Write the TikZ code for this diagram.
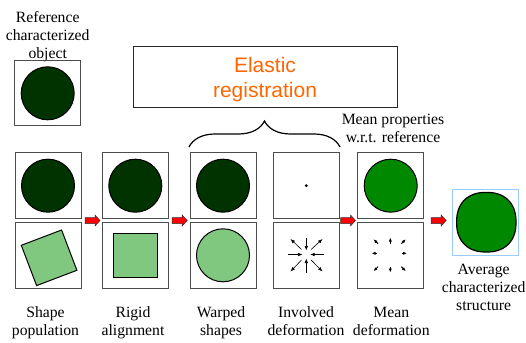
\documentclass[tikz,border=0pt]{standalone}
\usepackage{fontspec}
\setmainfont{Liberation Serif}
\newfontfamily\arialfont{Liberation Sans}
\usetikzlibrary{decorations.pathreplacing,arrows.meta}
\definecolor{darkgr}{RGB}{0,51,0}
\definecolor{midgr}{RGB}{0,136,0}
\definecolor{lightgr}{RGB}{128,200,128}
\definecolor{boxblue}{RGB}{153,204,255}
\definecolor{orng}{RGB}{255,102,0}
\begin{document}
\begin{tikzpicture}[x=1pt,y=-1pt,
  cell/.style={draw=black!70,line width=0.8pt,minimum width=66pt,minimum height=66pt,inner sep=0pt},
  shp/.style={draw=black,line width=1pt},
  lbl/.style={font=\fontsize{15.7}{18}\selectfont,align=center,inner sep=0pt},
  fa/.style={line width=0.6pt,-{Latex[length=4.5pt,width=3.5pt]}},
  ma/.style={line width=1pt,-{Latex[length=4pt,width=3.2pt]}},
  blk/.style={fill=red,draw=black!80,line width=0.5pt},
  redarr/.pic={\draw[blk] (-7.5,-3) -- (2.5,-3) -- (2.5,-5.5) -- (7.5,0) -- (2.5,5.5) -- (2.5,3) -- (-7.5,3) -- cycle;}
]
\useasboundingbox (0,0) rectangle (526,342);

% reference object
\node[lbl] (tref) at (47.7,36.2) {Reference\\characterized\\object};
\node[cell,minimum height=65pt] (ref) at (47.7,93.3) {};
\draw[shp,fill=darkgr] (ref.center) circle[radius=26.5];

% elastic registration
\node[draw=black!85,line width=1pt,minimum width=264pt,minimum height=60pt,inner sep=0pt] (ebox) at (265,77) {};
\node[font=\arialfont\fontsize{21}{25}\selectfont,text=orng,align=center,inner sep=0pt] (etext) at (265,80) {Elastic\\registration};
\draw[line width=1.2pt,decorate,decoration={brace,amplitude=26pt}] (189,147) -- (340,147);
\node[lbl] (tmp) at (393,128.3) {Mean properties\\w.r.t. reference};

% cells
\node[cell] (a1) at (48,185.7) {};
\node[cell] (b1) at (48,255.3) {};
\node[cell] (a2) at (135.3,185.7) {};
\node[cell] (b2) at (135.3,255.3) {};
\node[cell] (a3) at (223,185.7) {};
\node[cell] (b3) at (223,255.3) {};
\node[cell] (a4) at (306.3,185.7) {};
\node[cell] (b4) at (306.3,255.3) {};
\node[cell] (a5) at (390.7,185.7) {};
\node[cell] (b5) at (390.7,255.3) {};
\node[cell,draw=boxblue] (fin) at (485.8,222.5) {};

% contents
\draw[shp,fill=darkgr] (a1.center) circle[radius=26.5];
\draw[shp,fill=darkgr] (a2.center) circle[radius=26.5];
\draw[shp,fill=darkgr] (a3.center) circle[radius=26.5];
\draw[shp,fill=midgr] (a5.center) circle[radius=26.5];
\fill (a4.center) circle[radius=1.6];
\draw[shp,fill=lightgr] (21.3,245.3) -- (61.6,230) -- (76.9,270.3) -- (36.6,285.6) -- cycle;
\draw[shp,fill=lightgr] (113.4,233.6) rectangle (157,277);
\draw[shp,fill=lightgr] (b3.center) circle[radius=26.5];
\draw[shp,line width=1.2pt,fill=midgr] plot[domain=1:361,samples=91,smooth] ({486.3+29.7*sign(cos(\x))*pow(abs(cos(\x)),0.87)},{222.2+29.8*sign(sin(\x))*pow(abs(sin(\x)),0.87)}) -- cycle;

% involved deformation field
\draw[fa] (288.3,254.5) -- (302.5,254.5);
\draw[fa] (324.3,254.5) -- (310.1,254.5);
\draw[fa] (306.3,237.5) -- (306.3,250.5);
\draw[fa] (306.3,273) -- (306.3,258.5);
\draw[fa] (301.5,249.5) -- (290.5,239);
\draw[fa] (311.1,249.5) -- (322.5,239);
\draw[fa] (301.5,260) -- (290.5,271.5);
\draw[fa] (311.1,260) -- (322.5,271.5);

% mean deformation field
\draw[ma] (378,243.7) -- (373.5,239.2);
\draw[ma] (390.3,243.5) -- (390.3,237.5);
\draw[ma] (401.3,243.7) -- (405.8,239.2);
\draw[ma] (377,253.3) -- (371.5,253.3);
\draw[ma] (401.5,253.3) -- (407,253.3);
\draw[ma] (378,266.7) -- (373.5,271.2);
\draw[ma] (390.3,266.5) -- (390.3,272.5);
\draw[ma] (401.3,266.7) -- (405.8,271.2);

% red block arrows
\pic at (92.5,220.5) {redarr};
\pic at (179.7,220.5) {redarr};
\pic at (348,220.5) {redarr};
\pic at (438.7,220.5) {redarr};

% bottom labels
\node[lbl] (t1) at (45.5,323.2) {Shape\\population};
\node[lbl] (t2) at (133,323.2) {Rigid\\alignment};
\node[lbl] (t3) at (221,323.2) {Warped\\shapes};
\node[lbl] (t4) at (306,321.5) {Involved\\deformation};
\node[lbl] (t5) at (391.3,321.5) {Mean\\deformation};
\node[lbl] (t6) at (483.7,287.8) {Average\\characterized\\structure};
\end{tikzpicture}
\end{document}
